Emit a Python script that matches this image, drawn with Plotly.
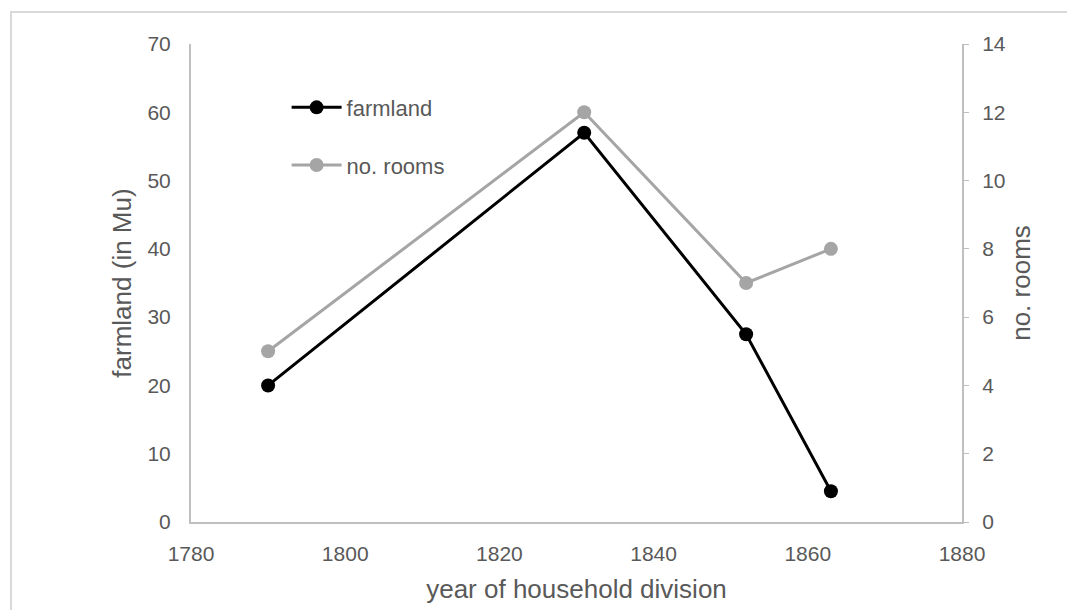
import plotly.graph_objects as go

years = [1790, 1831, 1852, 1863]
farmland = [20, 57, 27.5, 4.5]
rooms = [5, 12, 7, 8]

W, H = 1067, 610
L, R, T, B = 191, 105, 44, 88
pw, ph = W - L - R, H - T - B

FONT = "Liberation Sans, Arial, sans-serif"
TXT = "#595959"
AX = "#bfbfbf"
TICK = 21
TITLE = 26

fig = go.Figure()
fig.add_trace(go.Scatter(
    x=years, y=farmland, name="farmland", mode="lines+markers",
    line=dict(color="black", width=3), marker=dict(color="black", size=14),
    legendgroup="a", yaxis="y"))
fig.add_trace(go.Scatter(
    x=years, y=rooms, name="no. rooms", mode="lines+markers",
    line=dict(color="#a5a5a5", width=3), marker=dict(color="#a5a5a5", size=14),
    legendgroup="b", yaxis="y2"))

fig.update_layout(
    width=W, height=H,
    margin=dict(l=L, r=R, t=T, b=B, autoexpand=False),
    paper_bgcolor="white", plot_bgcolor="white",
    font=dict(family=FONT, color=TXT, size=TICK),
    showlegend=True,
    legend=dict(x=0.124, y=0.911, xanchor="left", yanchor="top",
                bgcolor="rgba(0,0,0,0)", font=dict(size=22, color=TXT),
                tracegroupgap=26, itemwidth=50),
    xaxis=dict(range=[1780, 1880], dtick=20, showgrid=False, zeroline=False,
               showline=True, linecolor=AX, linewidth=2, ticks="",
               ticklabelstandoff=12,
               title=dict(text="year of household division", font=dict(size=TITLE, color=TXT), standoff=16),
               tickfont=dict(size=TICK, color=TXT)),
    yaxis=dict(range=[0, 70], dtick=10, showgrid=False, zeroline=False,
               showline=True, linecolor=AX, linewidth=2, ticks="",
               ticklabelstandoff=14,
               title=dict(text="farmland (in Mu)", font=dict(size=TITLE, color=TXT), standoff=8),
               tickfont=dict(size=TICK, color=TXT)),
    yaxis2=dict(range=[0, 14], dtick=2, overlaying="y", side="right",
                showgrid=False, zeroline=False, showline=True, linecolor=AX, linewidth=2,
                ticks="outside", ticklen=5, tickcolor=AX, tickwidth=1,
                ticklabelstandoff=9,
                title=dict(text="no. rooms", font=dict(size=TITLE, color=TXT), standoff=7),
                tickfont=dict(size=TICK, color=TXT)),
    shapes=[dict(type="rect", xref="paper", yref="paper",
                 x0=(11 - L) / pw, x1=(W + 20 - L) / pw,
                 y0=-(H + 20 - T - ph) / ph, y1=(H - 12 - B) / ph,
                 line=dict(color="#d9d9d9", width=2), layer="below")],
)

fig.write_html("out.html", config={"displayModeBar": False},
               post_script="document.body.style.margin='0';document.body.style.overflow='hidden';")
